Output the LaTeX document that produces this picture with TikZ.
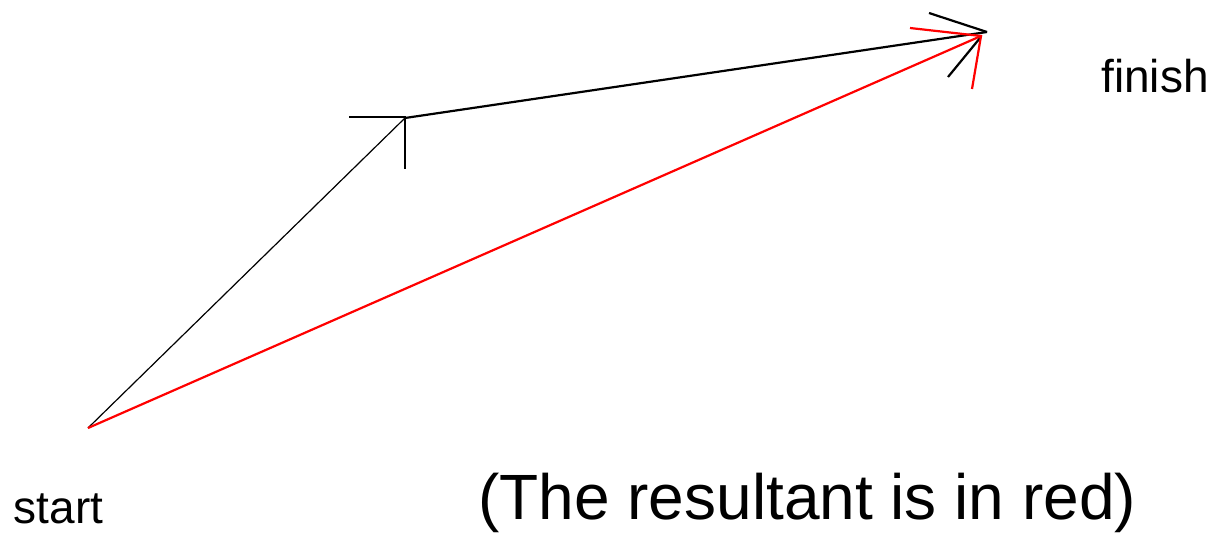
\documentclass[tikz,border=0pt]{standalone}
\usepackage{fontspec}
\setmainfont{Liberation Sans}
\begin{document}
\begin{tikzpicture}[x=1pt,y=-1pt,
  lbl/.style={inner sep=0pt,anchor=base west,font=\fontsize{46}{50}\selectfont},
  big/.style={inner sep=0pt,anchor=base west,font=\fontsize{64}{70}\selectfont},
  vecA/.style={draw=black,line width=1.2pt},
  vecB/.style={draw=black,line width=2.2pt},
  res/.style={draw=red,line width=2.2pt},
  barb/.style={line width=2.2pt}]
\useasboundingbox (0,0) rectangle (1214,533);
% points
\coordinate (S) at (88,428);
\coordinate (A) at (405,118);
\coordinate (Ah) at (349,117);
\coordinate (Av) at (405,169);
\coordinate (Ac) at (405,117);
\coordinate (F) at (987,32);
\coordinate (Fb1) at (929,13);
\coordinate (Fb2) at (948,77);
\coordinate (Fe2) at (980,38);
\coordinate (R) at (981,36);
\coordinate (Rb1) at (910,28);
\coordinate (Rb2) at (972,89);
% first vector
\draw[vecA] (S) -- (A);
\draw[barb] (Ah) -- (Ac) -- (Av);
% second vector
\draw[vecB] (A) -- (F);
\draw[barb,black] (Fb1) -- (F);
\draw[barb,black] (Fb2) -- (Fe2);
% resultant
\draw[res] (S) -- (R);
\draw[barb,red] (Rb1) -- (R) -- (Rb2);
% labels
\node[lbl] (start) at (13.5,523) {start};
\node[lbl] (finish) at (1101,92) {finish};
\node[big] (note) at (478,519) {(The resultant is in red)};
\end{tikzpicture}
\end{document}
